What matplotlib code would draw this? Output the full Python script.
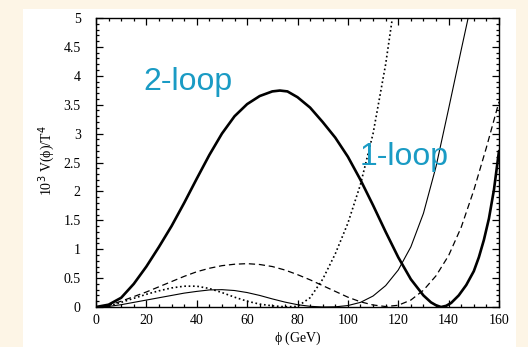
import matplotlib
matplotlib.use('Agg')
import matplotlib.pyplot as plt
from matplotlib.patches import Rectangle
from matplotlib.ticker import MultipleLocator, FuncFormatter

# curves: phi (GeV) and 10^3 V/T^4
phi_2loop = [0, 5, 10, 15, 20, 25, 30, 35, 40, 45, 50, 55, 60, 65, 70, 73, 76, 80, 85, 90,
             95, 100, 105, 110, 115, 120, 125, 130, 133, 135, 137, 139, 141, 144, 147, 150,
             152, 154, 156, 158, 160]
v_2loop = [0, 0.04, 0.16, 0.4, 0.7, 1.04, 1.4, 1.8, 2.22, 2.63, 3.0, 3.3, 3.51, 3.65, 3.73,
           3.745, 3.73, 3.63, 3.45, 3.2, 2.93, 2.6, 2.2, 1.76, 1.3, 0.86, 0.48, 0.2, 0.08,
           0.03, 0.0, 0.02, 0.07, 0.2, 0.38, 0.62, 0.86, 1.16, 1.53, 2.03, 2.7]

phi_thin = [0, 5, 10, 15, 20, 25, 30, 35, 40, 45, 50, 55, 60, 65, 70, 75, 80, 85, 90, 95,
            100, 105, 110, 115, 120, 125, 130, 135, 140, 145, 148]
v_thin = [0, 0.01, 0.04, 0.08, 0.12, 0.16, 0.2, 0.24, 0.27, 0.295, 0.3, 0.285, 0.25, 0.2,
          0.14, 0.085, 0.04, 0.012, 0.0, 0.003, 0.025, 0.08, 0.19, 0.37, 0.64, 1.04, 1.62,
          2.43, 3.43, 4.45, 5.05]

phi_dash = [0, 5, 10, 15, 20, 25, 30, 35, 40, 45, 50, 55, 60, 65, 70, 75, 80, 85, 90, 95,
            100, 105, 110, 115, 120, 125, 130, 135, 140, 145, 150, 155, 160]
v_dash = [0, 0.03, 0.1, 0.18, 0.26, 0.35, 0.44, 0.53, 0.61, 0.67, 0.715, 0.74, 0.75, 0.735,
          0.7, 0.64, 0.56, 0.47, 0.37, 0.27, 0.17, 0.09, 0.035, 0.008, 0.03, 0.12, 0.29, 0.54,
          0.89, 1.38, 2.02, 2.76, 3.55]

phi_dot = [0, 5, 10, 15, 20, 25, 30, 35, 40, 45, 50, 55, 60, 65, 70, 75, 80, 85, 90, 95,
           100, 105, 110, 115, 118]
v_dot = [0, 0.02, 0.08, 0.15, 0.22, 0.28, 0.33, 0.36, 0.36, 0.32, 0.25, 0.17, 0.1, 0.05,
         0.02, 0.004, 0.01, 0.16, 0.48, 0.92, 1.45, 2.12, 3.0, 4.2, 5.1]

W, H = 528, 347
fig = plt.figure(figsize=(W / 100, H / 100), dpi=100)
fig.patch.set_facecolor('#fdf5e6')
fig.patches.append(Rectangle((23 / W, 0), (516 - 23) / W, (H - 9) / H,
                             transform=fig.transFigure, facecolor='white',
                             edgecolor='none', zorder=-10))

ax = fig.add_axes([96 / W, (H - 307) / H, (499 - 96) / W, (307 - 18) / H])
ax.set_facecolor('white')
ax.set_zorder(1)

ax.plot(phi_2loop, v_2loop, color='black', lw=1.9, solid_capstyle='round',
        solid_joinstyle='round')
ax.plot(phi_thin, v_thin, color='black', lw=0.8, solid_joinstyle='round')
ax.plot(phi_dash, v_dash, color='black', lw=0.9, linestyle=(0, (5, 3)))
ax.plot(phi_dot, v_dot, color='black', lw=1.2, linestyle=(0, (1, 1.6)))

ax.set_xlim(0, 160)
ax.set_ylim(0, 5)
ax.xaxis.set_major_locator(MultipleLocator(20))
ax.xaxis.set_minor_locator(MultipleLocator(5))
ax.yaxis.set_major_locator(MultipleLocator(0.5))
ax.yaxis.set_minor_locator(MultipleLocator(0.1))
ax.yaxis.set_major_formatter(FuncFormatter(lambda v, p: '%g' % v))

serif = 'Liberation Serif'
ax.tick_params(which='both', direction='in', top=True, right=True, width=0.9)
ax.tick_params(which='major', length=5)
ax.tick_params(which='minor', length=2.5)
ax.tick_params(axis='y', pad=11)
ax.tick_params(axis='x', pad=5)
for lab in ax.get_xticklabels() + ax.get_yticklabels():
    lab.set_fontfamily(serif)
    lab.set_fontsize(10)
for s in ax.spines.values():
    s.set_linewidth(1.0)

ax.set_xlabel(r'$\mathregular{\phi}$ (GeV)', fontfamily=serif, fontsize=10, labelpad=2)
fig.text(47 / W, 1 - 161 / H, r'10$^3$ V($\mathregular{\phi}$)/T$^4$', rotation=90,
         ha='center', va='center', fontfamily=serif, fontsize=10)

teal = '#1a9bc4'
ax.text(18.7, 3.75, '2-loop', color=teal, fontsize=23, fontfamily='Liberation Sans')
ax.text(104.5, 2.46, '1-loop', color=teal, fontsize=23, fontfamily='Liberation Sans')

fig.savefig('out.png', dpi=100, facecolor=fig.get_facecolor())
